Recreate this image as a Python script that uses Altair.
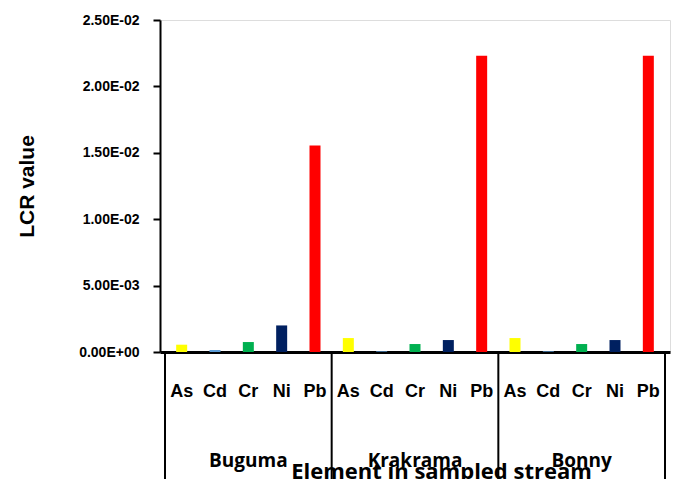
import altair as alt
import pandas as pd

groups = ["Buguma", "Krakrama", "Bonny"]
elements = ["As", "Cd", "Cr", "Ni", "Pb"]
colors = ["#FFFF00", "#5B9BD5", "#00B050", "#002060", "#FF0000"]
buguma = [5.5e-4, 1.5e-4, 7.5e-4, 2.0e-3, 1.555e-2]
krakrama = [1.05e-3, 5e-5, 6.0e-4, 9.0e-4, 2.23e-2]
bonny = [1.05e-3, 5e-5, 6.0e-4, 9.0e-4, 2.23e-2]
y_ticks = [0, 0.005, 0.01, 0.015, 0.02, 0.025]

series = [buguma, krakrama, bonny]
n_el = len(elements)
rows = []
for gi, g in enumerate(groups):
    for ei, e in enumerate(elements):
        rows.append({"group": g, "element": e, "pos": gi * n_el + ei + 0.5,
                     "value": series[gi][ei]})
df = pd.DataFrame(rows)
div_df = pd.DataFrame({"pos": [gi * n_el for gi in range(len(groups) + 1)]})
grp_df = pd.DataFrame({"group": groups,
                       "pos": [gi * n_el + n_el / 2 for gi in range(len(groups))]})

W, H = 510, 332
xmax = len(groups) * n_el
xscale = alt.Scale(domain=[0, xmax], nice=False, zero=True)

bars = alt.Chart(df).mark_bar(width=11).encode(
    x=alt.X("pos:Q", scale=xscale,
            axis=alt.Axis(labels=False, ticks=False, grid=False,
                          domainColor="black", domainWidth=3,
                          title="Element in sampled stream",
                          titleFont="Open Sans", titleFontWeight="bold",
                          titleFontSize=22, titleColor="black",
                          titleX=281, titleY=126, titleBaseline="alphabetic")),
    y=alt.Y("value:Q", scale=alt.Scale(domain=[0, 0.025], nice=False),
            axis=alt.Axis(values=y_ticks,
                          labelExpr="replace(replace(format(datum.value, '.2e'), 'e-', 'E-0'), 'e+', 'E+0')",
                          grid=False, domainColor="black", domainWidth=2,
                          tickColor="black", tickWidth=2, tickSize=7,
                          labelFont="Liberation Sans", labelFontWeight="bold",
                          labelFontSize=14, labelColor="black", labelPadding=14,
                          title="LCR value", titleFont="Liberation Sans",
                          titleFontWeight="bold", titleFontSize=21,
                          titleColor="black", titlePadding=41)),
    color=alt.Color("element:N", scale=alt.Scale(domain=elements, range=colors),
                    legend=None),
)

elabels = alt.Chart(df).mark_text(font="Liberation Sans", fontWeight="bold",
                                  fontSize=18, color="black",
                                  baseline="middle").encode(
    x=alt.X("pos:Q", scale=xscale),
    y=alt.value(H + 40),
    text="element:N",
)

dividers = alt.Chart(div_df).mark_rule(color="black", strokeWidth=2).encode(
    x=alt.X("pos:Q", scale=xscale),
    y=alt.value(H),
    y2=alt.value(H + 140),
)

glabels = alt.Chart(grp_df).mark_text(font="Open Sans", fontWeight="bold",
                                      fontSize=19, color="black",
                                      baseline="middle").encode(
    x=alt.X("pos:Q", scale=xscale),
    y=alt.value(H + 109),
    text="group:N",
)

chart = alt.layer(bars, elabels, dividers, glabels).properties(
    width=W, height=H,
    autosize=alt.AutoSizeParams(type="none"),
    padding={"left": 152, "top": 12, "right": 3, "bottom": 127},
).configure_view(stroke=None).configure(background="white")

chart.save("out.html", embed_options={"renderer": "svg", "actions": False})
